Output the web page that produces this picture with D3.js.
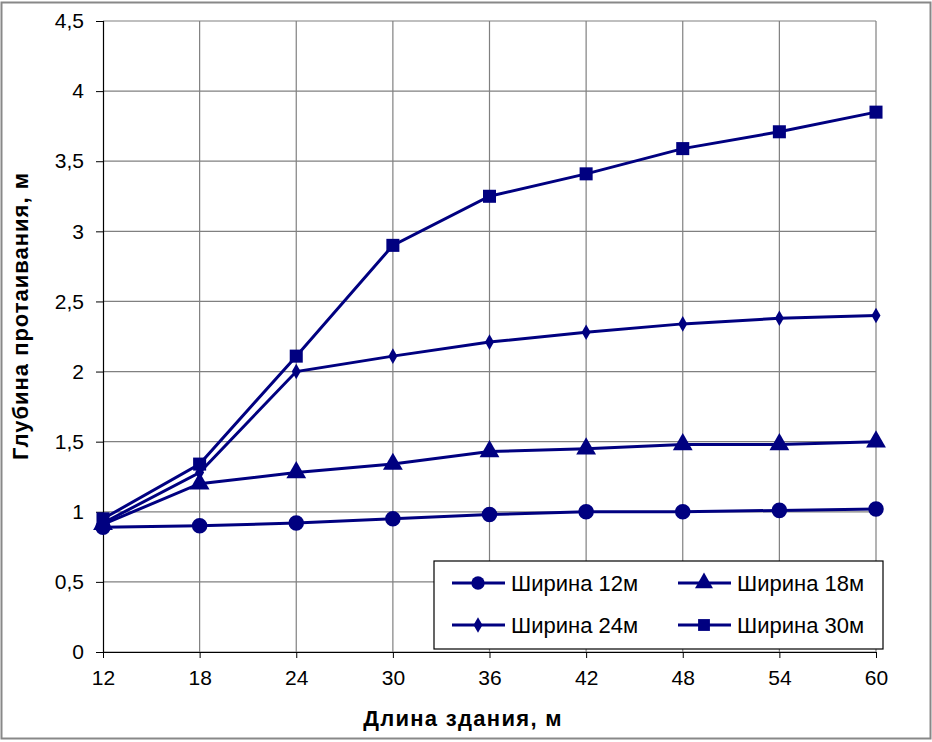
<!DOCTYPE html>
<html><head><meta charset="utf-8">
<script src="https://cdn.jsdelivr.net/npm/d3@7"></script>
<style>body{margin:0;background:#fff;} svg{display:block;font-family:"Liberation Sans",Arial,sans-serif;}</style>
</head><body>
<script>
const lengths = [12, 18, 24, 30, 36, 42, 48, 54, 60];
const w12 = [0.89, 0.90, 0.92, 0.95, 0.98, 1.00, 1.00, 1.01, 1.02];
const w18 = [0.91, 1.20, 1.28, 1.34, 1.43, 1.45, 1.48, 1.48, 1.50];
const w24 = [0.92, 1.28, 2.00, 2.11, 2.21, 2.28, 2.34, 2.38, 2.40];
const w30 = [0.95, 1.34, 2.11, 2.90, 3.25, 3.41, 3.59, 3.71, 3.85];
const seriesNames = ["Ширина 12м", "Ширина 18м", "Ширина 24м", "Ширина 30м"];
const yTicks = [0, 0.5, 1, 1.5, 2, 2.5, 3, 3.5, 4, 4.5];
const xTitle = "Длина здания, м";
const yTitle = "Глубина протаивания, м";

const W = 932, H = 742;
const m = {left: 103, right: 876, top: 21, bottom: 652};
const color = "#000080";
const FONT = '"Liberation Sans",Arial,sans-serif';
const svg = d3.select("body").append("svg").attr("width", W).attr("height", H);

svg.append("rect").attr("x", 1.5).attr("y", 2.5).attr("width", W - 3).attr("height", H - 6)
  .attr("fill", "#fff").attr("stroke", "#888").attr("stroke-width", 2);

const x = d3.scalePoint().domain(lengths).range([m.left, m.right]);
const y = d3.scaleLinear().domain([0, 4.5]).range([m.bottom, m.top]);

// grid
const g = svg.append("g");
g.selectAll(".hg").data(yTicks).join("line")
  .attr("x1", m.left).attr("x2", m.right).attr("y1", d => y(d)).attr("y2", d => y(d))
  .attr("stroke", "#808080").attr("stroke-width", 1.2);
g.selectAll(".vg").data(lengths.slice(1)).join("line")
  .attr("x1", d => x(d)).attr("x2", d => x(d)).attr("y1", m.top).attr("y2", m.bottom)
  .attr("stroke", "#808080").attr("stroke-width", 1.2);

// axes
const ya = svg.append("g").attr("transform", `translate(${m.left},0)`)
  .call(d3.axisLeft(y).tickValues(yTicks).tickSize(7).tickPadding(12)
    .tickFormat(d => String(d).replace(".", ",")));
ya.select(".domain").attr("stroke", "#000").attr("stroke-width", 1.2);
ya.selectAll(".tick line").attr("stroke", "#000");
ya.selectAll("text").attr("font-size", 21).attr("fill", "#000").attr("font-family", FONT);

const xa = svg.append("g").attr("transform", `translate(0,${m.bottom})`)
  .call(d3.axisBottom(x).tickSize(6).tickPadding(12).tickSizeOuter(0));
xa.select(".domain").attr("stroke", "#000").attr("stroke-width", 1.2);
xa.selectAll(".tick line").attr("stroke", "#000");
xa.selectAll("text").attr("font-size", 21).attr("fill", "#000").attr("font-family", FONT);

// titles
svg.append("text").attr("x", 463).attr("y", 726).attr("text-anchor", "middle")
  .attr("font-weight", "bold").attr("font-size", 22).attr("letter-spacing", 1.3).text(xTitle);
svg.append("text").attr("transform", `translate(28,316) rotate(-90)`)
  .attr("text-anchor", "middle").attr("font-weight", "bold").attr("font-size", 22)
  .attr("letter-spacing", 1).text(yTitle);

const allSeries = [w12, w18, w24, w30];
const shapes = [d3.symbolCircle, d3.symbolTriangle, d3.symbolDiamond, d3.symbolSquare];
const sizes = [190, 170, 70, 170];
const line = d3.line().x((d, i) => x(lengths[i])).y(d => y(d));

allSeries.forEach((s, k) => {
  svg.append("path").datum(s).attr("d", line).attr("fill", "none")
    .attr("stroke", color).attr("stroke-width", 3);
});
allSeries.forEach((s, k) => {
  svg.append("g").selectAll("path").data(s).join("path")
    .attr("transform", (d, i) => `translate(${x(lengths[i])},${y(d)})`)
    .attr("d", d3.symbol().type(shapes[k]).size(sizes[k])).attr("fill", color);
});

// legend
const lg = svg.append("g");
lg.append("rect").attr("x", 434).attr("y", 561).attr("width", 449).attr("height", 88)
  .attr("fill", "#fff").attr("stroke", "#000").attr("stroke-width", 1.2);
const pos = [[452, 583], [678, 583], [452, 625], [678, 625]];
seriesNames.forEach((n, k) => {
  const [px, py] = pos[k];
  lg.append("line").attr("x1", px).attr("x2", px + 53).attr("y1", py).attr("y2", py)
    .attr("stroke", color).attr("stroke-width", 3);
  lg.append("path").attr("transform", `translate(${px + 26},${py})`)
    .attr("d", d3.symbol().type(shapes[k]).size(k === 2 ? 70 : 140)).attr("fill", color);
  lg.append("text").attr("x", px + 59).attr("y", py + 8).attr("font-size", 22).text(n);
});
</script>
</body></html>
